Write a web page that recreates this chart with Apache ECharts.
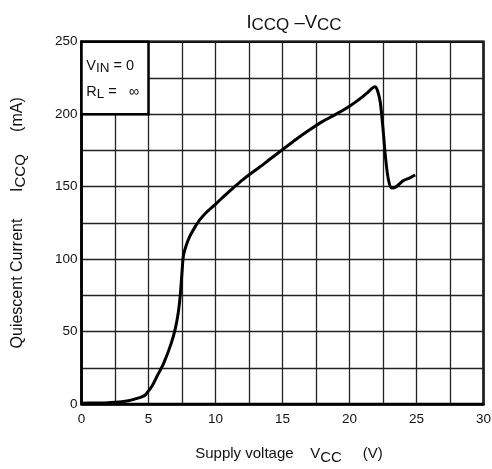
<!DOCTYPE html>
<html>
<head>
<meta charset="utf-8">
<script src="https://cdn.jsdelivr.net/npm/echarts@6/dist/echarts.min.js"></script>
<style>html,body{margin:0;padding:0;background:#fff;}#c{width:492px;height:469px;}</style>
</head>
<body>
<div id="c"></div>
<script>
var vcc = [0, 1, 2, 2.5, 3, 3.5, 3.9, 4.4, 4.76, 5.0, 5.3, 5.63, 6.13, 6.7, 7.0, 7.22, 7.38, 7.5, 7.6, 7.8, 8.07, 8.4, 8.82, 9.4, 10.07, 10.7, 11.31, 12.0, 12.56, 13.3, 14.0, 15.0, 16.0, 17.0, 18.0, 19.0, 20.0, 20.7, 21.3, 21.7, 21.9, 22.1, 22.3, 22.5, 22.7, 22.9, 23.15, 23.5, 24.0, 24.5, 24.9];
var iccq = [0.6, 0.7, 0.9, 1.2, 1.6, 2.3, 3.2, 4.6, 6.2, 9, 13, 19, 28, 42, 52, 63, 76, 91, 102, 109, 115.5, 121, 127, 133, 138.5, 144, 149, 154.5, 158.5, 163.5, 168.5, 175.5, 182.5, 189, 195, 200, 205.5, 210, 214.5, 218, 219, 216, 208, 190, 169, 155, 149, 150, 154, 156, 158];
var xTicks = [0, 5, 10, 15, 20, 25, 30];
var yTicks = [0, 50, 100, 150, 200, 250];
var titleParts = ['I', 'CCQ', ' \u2013V', 'CC'];
var xName = ['Supply voltage    V', 'CC', '     (V)'];
var yName = ['Quiescent Current      I', 'CCQ', '     (mA)'];
var boxLines = [['V', 'IN', ' = 0'], ['R', 'L', ' =   \u221E']];

var FONT = 'Liberation Sans, Arial, sans-serif';
var data = vcc.map(function (v, i) { return [v, iccq[i]]; });
function sub(parts, a, b) { return '{' + a + '|' + parts[0] + '}{' + b + '|' + parts[1] + '}{' + a + '|' + parts[2] + '}'; }

var chart = echarts.init(document.getElementById('c'), null, {renderer: 'canvas'});
chart.setOption({
  backgroundColor: '#fff',
  animation: false,
  title: {
    text: '{a|' + titleParts[0] + '}{b|' + titleParts[1] + '}{a|' + titleParts[2] + '}{b|' + titleParts[3] + '}',
    left: 289, top: 6, textAlign: 'center',
    textStyle: {
      rich: {
        a: {fontFamily: FONT, fontSize: 18.5, fontWeight: 'normal', color: '#111'},
        b: {fontFamily: FONT, fontSize: 17, fontWeight: 'normal', color: '#111', padding: [6, 0, 0, 0]}
      }
    }
  },
  grid: {left: 81.5, right: 8.5, top: 41.7, bottom: 65, outerBoundsMode: 'none', containLabel: false, show: true, borderColor: '#000', borderWidth: 2.5, backgroundColor: '#fff'},
  xAxis: {
    type: 'value', min: 0, max: 30, interval: 2.5,
    name: sub(xName, 'a', 'b'), nameLocation: 'middle', nameGap: 39,
    nameTextStyle: {padding: [0, 0, 0, 13], rich: {
      a: {fontFamily: FONT, fontSize: 15, color: '#111'},
      b: {fontFamily: FONT, fontSize: 15, color: '#111', padding: [7, 0, 0, 0]}
    }},
    axisLine: {show: true, onZero: false, lineStyle: {color: '#000', width: 2.5}},
    axisTick: {show: false},
    splitLine: {show: true, lineStyle: {color: '#222', width: 1.3}},
    axisLabel: {
      fontFamily: FONT, fontSize: 13.5, color: '#111', margin: 8,
      formatter: function (v) { return xTicks.indexOf(v) >= 0 ? String(v) : ''; }
    }
  },
  yAxis: {
    type: 'value', min: 0, max: 250, interval: 25,
    name: sub(yName, 'a', 'b'), nameLocation: 'middle', nameGap: 53, nameRotate: 90,
    nameTextStyle: {rich: {
      a: {fontFamily: FONT, fontSize: 16, color: '#111'},
      b: {fontFamily: FONT, fontSize: 15, color: '#111', padding: [7, 0, 0, 0]}
    }},
    axisLine: {show: true, lineStyle: {color: '#000', width: 2.5}},
    axisTick: {show: false},
    splitLine: {show: true, lineStyle: {color: '#222', width: 1.3}},
    axisLabel: {
      fontFamily: FONT, fontSize: 13.5, color: '#111', margin: 4,
      formatter: function (v) { return yTicks.indexOf(v) >= 0 ? String(v) : ''; }
    }
  },
  series: [{
    type: 'line', data: data, smooth: 0.25, showSymbol: false,
    lineStyle: {color: '#000', width: 3},
    markArea: {
      silent: true,
      itemStyle: {color: '#fff', borderColor: '#000', borderWidth: 2.5},
      label: {
        show: true, position: 'insideTopLeft', distance: 6, offset: [0, 7],
        formatter: sub(boxLines[0], 'a', 'b') + '\n' + sub(boxLines[1], 'a', 'b'),
        rich: {
          a: {fontFamily: FONT, fontSize: 14.5, color: '#111', lineHeight: 26},
          b: {fontFamily: FONT, fontSize: 13.5, color: '#111', padding: [4, 0, 0, 0], lineHeight: 26}
        }
      },
      data: [[{xAxis: 0, yAxis: 200}, {xAxis: 5, yAxis: 250}]]
    }
  }]
});
</script>
</body>
</html>
